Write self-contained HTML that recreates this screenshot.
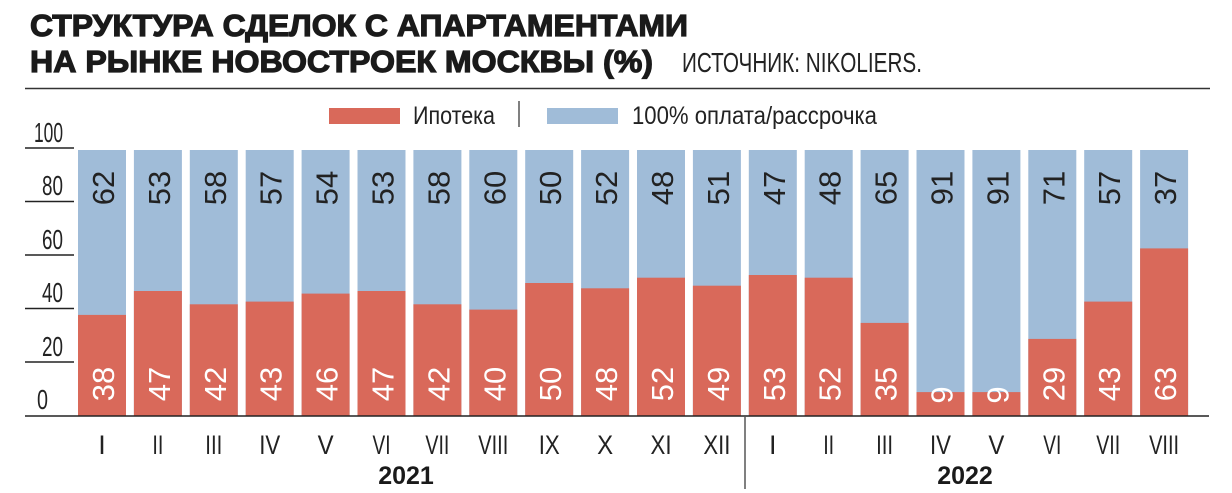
<!DOCTYPE html>
<html><head><meta charset="utf-8"><style>
html,body{margin:0;padding:0;background:#fff;}
svg{display:block;}
text{font-family:"Liberation Sans",sans-serif;}
</style></head><body>
<svg width="1232" height="493" viewBox="0 0 1232 493" xmlns="http://www.w3.org/2000/svg">
<text x="30" y="36" font-size="31" font-weight="bold" fill="#1a1a1a" stroke="#1a1a1a" stroke-width="1.2" textLength="658" lengthAdjust="spacingAndGlyphs">СТРУКТУРА СДЕЛОК С АПАРТАМЕНТАМИ</text>
<text x="30" y="72" font-size="31" font-weight="bold" fill="#1a1a1a" stroke="#1a1a1a" stroke-width="1.2" textLength="623" lengthAdjust="spacingAndGlyphs">НА РЫНКЕ НОВОСТРОЕК МОСКВЫ (%)</text>
<text x="682" y="72" font-size="28" fill="#222" textLength="240" lengthAdjust="spacingAndGlyphs">ИСТОЧНИК:  NIKOLIERS.</text>
<line x1="25" y1="88.5" x2="1210" y2="88.5" stroke="#333" stroke-width="1.5"/>
<rect x="329" y="108" width="71" height="16" fill="#d9695a"/>
<text x="413" y="124" font-size="25" fill="#222" textLength="82" lengthAdjust="spacingAndGlyphs">Ипотека</text>
<line x1="519" y1="101" x2="519" y2="127" stroke="#555" stroke-width="1.5"/>
<rect x="547" y="108" width="71" height="16" fill="#a0bcd8"/>
<text x="632" y="124" font-size="25" fill="#222" textLength="245" lengthAdjust="spacingAndGlyphs">100% оплата/рассрочка</text>
<g stroke="#222" stroke-width="1.5">
<line x1="25" y1="148" x2="74" y2="148"/>
<line x1="25" y1="201.5" x2="74" y2="201.5"/>
<line x1="25" y1="255" x2="74" y2="255"/>
<line x1="25" y1="308.5" x2="74" y2="308.5"/>
<line x1="25" y1="362" x2="74" y2="362"/>
</g>
<g font-size="28" fill="#222">
<text x="34" y="142" textLength="29" lengthAdjust="spacingAndGlyphs">100</text>
<text x="42" y="195" textLength="21" lengthAdjust="spacingAndGlyphs">80</text>
<text x="42" y="249" textLength="21" lengthAdjust="spacingAndGlyphs">60</text>
<text x="42" y="302" textLength="21" lengthAdjust="spacingAndGlyphs">40</text>
<text x="42" y="356" textLength="21" lengthAdjust="spacingAndGlyphs">20</text>
<text x="37" y="409" textLength="11" lengthAdjust="spacingAndGlyphs">0</text>
</g>
<g fill="#a0bcd8">
<rect x="78" y="150" width="48" height="266"/><rect x="133.9" y="150" width="48" height="266"/><rect x="189.8" y="150" width="48" height="266"/><rect x="245.7" y="150" width="48" height="266"/><rect x="301.6" y="150" width="48" height="266"/><rect x="357.5" y="150" width="48" height="266"/><rect x="413.4" y="150" width="48" height="266"/><rect x="469.3" y="150" width="48" height="266"/><rect x="525.2" y="150" width="48" height="266"/><rect x="581.1" y="150" width="48" height="266"/><rect x="637" y="150" width="48" height="266"/><rect x="692.9" y="150" width="48" height="266"/><rect x="748.8" y="150" width="48" height="266"/><rect x="804.7" y="150" width="48" height="266"/><rect x="860.6" y="150" width="48" height="266"/><rect x="916.5" y="150" width="48" height="266"/><rect x="972.4" y="150" width="48" height="266"/><rect x="1028.3" y="150" width="48" height="266"/><rect x="1084.2" y="150" width="48" height="266"/><rect x="1140.1" y="150" width="48" height="266"/>
</g>
<g fill="#d9695a">
<rect x="78" y="314.9" width="48" height="101.1"/><rect x="133.9" y="291" width="48" height="125"/><rect x="189.8" y="304.3" width="48" height="111.7"/><rect x="245.7" y="301.6" width="48" height="114.4"/><rect x="301.6" y="293.6" width="48" height="122.4"/><rect x="357.5" y="291" width="48" height="125"/><rect x="413.4" y="304.3" width="48" height="111.7"/><rect x="469.3" y="309.6" width="48" height="106.4"/><rect x="525.2" y="283" width="48" height="133"/><rect x="581.1" y="288.3" width="48" height="127.7"/><rect x="637" y="277.7" width="48" height="138.3"/><rect x="692.9" y="285.7" width="48" height="130.3"/><rect x="748.8" y="275" width="48" height="141"/><rect x="804.7" y="277.7" width="48" height="138.3"/><rect x="860.6" y="322.9" width="48" height="93.1"/><rect x="916.5" y="392.1" width="48" height="23.9"/><rect x="972.4" y="392.1" width="48" height="23.9"/><rect x="1028.3" y="338.9" width="48" height="77.1"/><rect x="1084.2" y="301.6" width="48" height="114.4"/><rect x="1140.1" y="248.4" width="48" height="167.6"/>
</g>
<g font-size="31" fill="#222" text-anchor="middle">
<text transform="translate(114,188) rotate(-90)">62</text>
<text transform="translate(169.9,188) rotate(-90)">53</text>
<text transform="translate(225.8,188) rotate(-90)">58</text>
<text transform="translate(281.7,188) rotate(-90)">57</text>
<text transform="translate(337.6,188) rotate(-90)">54</text>
<text transform="translate(393.5,188) rotate(-90)">53</text>
<text transform="translate(449.4,188) rotate(-90)">58</text>
<text transform="translate(505.3,188) rotate(-90)">60</text>
<text transform="translate(561.2,188) rotate(-90)">50</text>
<text transform="translate(617.1,188) rotate(-90)">52</text>
<text transform="translate(673,188) rotate(-90)">48</text>
<text transform="translate(728.9,188) rotate(-90)">51</text>
<text transform="translate(784.8,188) rotate(-90)">47</text>
<text transform="translate(840.7,188) rotate(-90)">48</text>
<text transform="translate(896.6,188) rotate(-90)">65</text>
<text transform="translate(952.5,188) rotate(-90)">91</text>
<text transform="translate(1008.4,188) rotate(-90)">91</text>
<text transform="translate(1064.3,188) rotate(-90)">71</text>
<text transform="translate(1120.2,188) rotate(-90)">57</text>
<text transform="translate(1176.1,188) rotate(-90)">37</text>
</g>
<g font-size="31" fill="#fff" text-anchor="middle">
<text transform="translate(114,384) rotate(-90)">38</text>
<text transform="translate(169.9,384) rotate(-90)">47</text>
<text transform="translate(225.8,384) rotate(-90)">42</text>
<text transform="translate(281.7,384) rotate(-90)">43</text>
<text transform="translate(337.6,384) rotate(-90)">46</text>
<text transform="translate(393.5,384) rotate(-90)">47</text>
<text transform="translate(449.4,384) rotate(-90)">42</text>
<text transform="translate(505.3,384) rotate(-90)">40</text>
<text transform="translate(561.2,384) rotate(-90)">50</text>
<text transform="translate(617.1,384) rotate(-90)">48</text>
<text transform="translate(673,384) rotate(-90)">52</text>
<text transform="translate(728.9,384) rotate(-90)">49</text>
<text transform="translate(784.8,384) rotate(-90)">53</text>
<text transform="translate(840.7,384) rotate(-90)">52</text>
<text transform="translate(896.6,384) rotate(-90)">35</text>
<text transform="translate(952.5,395) rotate(-90)">9</text>
<text transform="translate(1008.4,395) rotate(-90)">9</text>
<text transform="translate(1064.3,384) rotate(-90)">29</text>
<text transform="translate(1120.2,384) rotate(-90)">43</text>
<text transform="translate(1176.1,384) rotate(-90)">63</text>
</g>
<g font-size="27" fill="#222" text-anchor="middle">
<text x="102" y="454">I</text>
<text x="157.9" y="454" textLength="11" lengthAdjust="spacingAndGlyphs">II</text>
<text x="213.8" y="454" textLength="17" lengthAdjust="spacingAndGlyphs">III</text>
<text x="269.7" y="454" textLength="21" lengthAdjust="spacingAndGlyphs">IV</text>
<text x="325.6" y="454" textLength="16" lengthAdjust="spacingAndGlyphs">V</text>
<text x="381.5" y="454" textLength="18" lengthAdjust="spacingAndGlyphs">VI</text>
<text x="437.4" y="454" textLength="24" lengthAdjust="spacingAndGlyphs">VII</text>
<text x="493.3" y="454" textLength="30" lengthAdjust="spacingAndGlyphs">VIII</text>
<text x="549.2" y="454" textLength="21" lengthAdjust="spacingAndGlyphs">IX</text>
<text x="605.1" y="454" textLength="16" lengthAdjust="spacingAndGlyphs">X</text>
<text x="661" y="454" textLength="21" lengthAdjust="spacingAndGlyphs">XI</text>
<text x="716.9" y="454" textLength="27" lengthAdjust="spacingAndGlyphs">XII</text>
<text x="772.8" y="454">I</text>
<text x="828.7" y="454" textLength="11" lengthAdjust="spacingAndGlyphs">II</text>
<text x="884.6" y="454" textLength="17" lengthAdjust="spacingAndGlyphs">III</text>
<text x="940.5" y="454" textLength="21" lengthAdjust="spacingAndGlyphs">IV</text>
<text x="996.4" y="454" textLength="16" lengthAdjust="spacingAndGlyphs">V</text>
<text x="1052.3" y="454" textLength="18" lengthAdjust="spacingAndGlyphs">VI</text>
<text x="1108.2" y="454" textLength="24" lengthAdjust="spacingAndGlyphs">VII</text>
<text x="1164.1" y="454" textLength="30" lengthAdjust="spacingAndGlyphs">VIII</text>
</g>
<line x1="25" y1="416" x2="1209" y2="416" stroke="#222" stroke-width="1.5"/>
<line x1="745" y1="416" x2="745" y2="489" stroke="#555" stroke-width="1.5"/>
<text x="406" y="484" font-size="25" font-weight="bold" fill="#1a1a1a" text-anchor="middle">2021</text>
<text x="965" y="484" font-size="25" font-weight="bold" fill="#1a1a1a" text-anchor="middle">2022</text>
</svg>
</body></html>
